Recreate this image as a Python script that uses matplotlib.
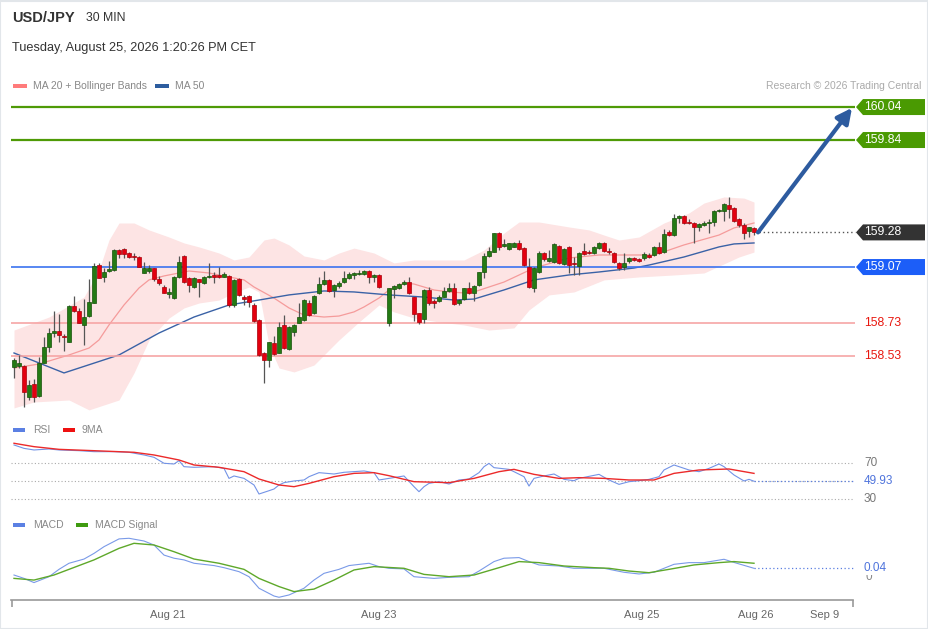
import numpy as np
import matplotlib
matplotlib.use('Agg')
import matplotlib.pyplot as plt
from matplotlib.patches import Polygon, Rectangle

plt.rcParams['font.family'] = ['Liberation Sans', 'DejaVu Sans']

# ---- candles (USD/JPY 30 min), one slot per candle, weekend gap after candle 74
opens = [158.466, 158.470, 158.470, 158.285, 158.361, 158.291, 158.491, 158.588, 158.668, 158.685,
         158.652, 158.618, 158.836, 158.806, 158.719, 158.773, 158.854, 159.082, 159.012, 159.048,
         159.052, 159.173, 159.179, 159.157, 159.137, 159.133, 159.036, 159.048, 159.062, 158.996,
         158.951, 158.907, 158.881, 159.008, 159.139, 159.002, 158.951, 158.996, 158.975, 159.008,
         159.024, 159.024, 159.012, 159.016, 158.840, 158.996, 158.891, 158.895, 158.840, 158.749,
         158.551, 158.507, 158.612, 158.547, 158.719, 158.571, 158.678, 158.733, 158.749, 158.854,
         158.789, 158.911, 158.967, 158.991, 158.931, 158.955, 158.981, 159.002, 159.022, 159.028,
         159.028, 159.046, 159.008, 159.022, 158.733, 158.935, 158.941, 158.967, 158.981, 158.886,
         158.789, 158.753, 158.931, 158.866, 158.864, 158.890, 158.927, 158.941, 158.854, 158.874,
         158.941, 158.911, 158.961, 159.042, 159.137, 159.163, 159.278, 159.197, 159.177, 159.194,
         159.214, 159.183, 159.068, 158.941, 159.042, 159.157, 159.109, 159.103, 159.198, 159.089,
         159.194, 159.097, 159.076, 159.167, 159.163, 159.153, 159.184, 159.218, 159.169, 159.157,
         159.097, 159.068, 159.109, 159.127, 159.117, 159.123, 159.143, 159.143, 159.194, 159.163,
         159.285, 159.264, 159.369, 159.379, 159.341, 159.339, 159.315, 159.325, 159.335, 159.345,
         159.410, 159.412, 159.446, 159.426, 159.359, 159.325, 159.291, 159.309]
closes = [158.507, 158.487, 158.315, 158.355, 158.285, 158.487, 158.588, 158.668, 158.683, 158.658,
          158.644, 158.836, 158.806, 158.733, 158.769, 158.860, 159.078, 159.006, 159.042, 159.058,
          159.173, 159.147, 159.149, 159.133, 159.129, 159.072, 159.062, 159.066, 158.996, 158.971,
          158.915, 158.921, 159.012, 159.103, 158.982, 158.961, 159.002, 158.982, 159.012, 159.016,
          159.012, 159.012, 159.028, 158.840, 158.992, 158.901, 158.874, 158.860, 158.743, 158.537,
          158.507, 158.614, 158.543, 158.709, 158.577, 158.705, 158.719, 158.769, 158.870, 158.779,
          158.894, 158.967, 158.991, 158.927, 158.961, 158.975, 159.002, 159.028, 159.032, 159.036,
          159.046, 159.008, 159.022, 158.947, 158.941, 158.955, 158.967, 158.979, 158.911, 158.785,
          158.739, 158.931, 158.850, 158.854, 158.886, 158.925, 158.941, 158.846, 158.870, 158.941,
          158.915, 158.955, 159.038, 159.137, 159.167, 159.274, 159.193, 159.210, 159.214, 159.214,
          159.177, 159.082, 158.951, 159.062, 159.157, 159.117, 159.123, 159.208, 159.097, 159.177,
          159.082, 159.089, 159.157, 159.149, 159.153, 159.190, 159.218, 159.169, 159.161, 159.103,
          159.062, 159.093, 159.127, 159.113, 159.109, 159.147, 159.129, 159.194, 159.157, 159.270,
          159.264, 159.365, 159.379, 159.335, 159.335, 159.311, 159.331, 159.339, 159.345, 159.412,
          159.416, 159.452, 159.420, 159.351, 159.325, 159.274, 159.311, 159.280]
highs = [158.517, 158.537, 158.476, 158.386, 158.390, 158.527, 158.644, 158.699, 158.806, 158.786,
         158.662, 158.840, 158.895, 158.820, 158.874, 158.996, 159.093, 159.093, 159.062, 159.109,
         159.177, 159.177, 159.184, 159.163, 159.153, 159.137, 159.103, 159.083, 159.066, 159.016,
         158.961, 158.941, 159.016, 159.137, 159.143, 159.008, 159.008, 158.996, 159.016, 159.093,
         159.038, 159.072, 159.038, 159.022, 158.996, 159.002, 158.901, 158.901, 158.850, 158.753,
         158.557, 158.618, 158.652, 158.739, 158.779, 158.713, 158.725, 158.854, 158.874, 158.870,
         158.900, 159.012, 159.048, 158.995, 158.965, 158.987, 159.048, 159.042, 159.042, 159.052,
         159.052, 159.052, 159.028, 159.026, 158.945, 158.961, 158.975, 158.991, 159.012, 158.890,
         158.793, 158.935, 158.951, 158.874, 158.900, 158.951, 158.975, 158.971, 158.874, 158.945,
         158.981, 158.961, 159.042, 159.153, 159.193, 159.278, 159.282, 159.238, 159.218, 159.224,
         159.234, 159.190, 159.123, 159.068, 159.167, 159.163, 159.173, 159.214, 159.204, 159.184,
         159.198, 159.133, 159.163, 159.214, 159.173, 159.198, 159.224, 159.224, 159.184, 159.163,
         159.103, 159.153, 159.133, 159.133, 159.123, 159.163, 159.153, 159.198, 159.224, 159.299,
         159.295, 159.392, 159.385, 159.385, 159.359, 159.345, 159.339, 159.351, 159.359, 159.416,
         159.420, 159.456, 159.497, 159.432, 159.365, 159.335, 159.315, 159.311]
lows = [158.396, 158.456, 158.224, 158.264, 158.254, 158.285, 158.487, 158.557, 158.648, 158.618,
        158.561, 158.618, 158.800, 158.729, 158.598, 158.769, 158.850, 159.002, 158.982, 159.042,
        159.048, 159.123, 159.123, 159.123, 159.113, 159.068, 159.032, 159.032, 158.986, 158.961,
        158.911, 158.881, 158.874, 159.002, 158.971, 158.921, 158.941, 158.891, 158.967, 159.002,
        158.971, 159.002, 159.008, 158.830, 158.830, 158.895, 158.840, 158.830, 158.739, 158.531,
        158.369, 158.462, 158.537, 158.547, 158.571, 158.567, 158.652, 158.729, 158.745, 158.775,
        158.785, 158.907, 158.961, 158.921, 158.890, 158.941, 158.975, 158.995, 158.995, 159.022,
        159.022, 158.971, 158.981, 158.941, 158.713, 158.880, 158.935, 158.961, 158.907, 158.745,
        158.725, 158.733, 158.840, 158.820, 158.860, 158.886, 158.921, 158.840, 158.840, 158.870,
        158.907, 158.866, 158.955, 159.002, 159.133, 159.159, 159.173, 159.193, 159.173, 159.190,
        159.173, 159.076, 158.941, 158.921, 159.036, 159.109, 159.103, 159.097, 159.089, 159.082,
        159.032, 159.022, 159.022, 159.143, 159.149, 159.149, 159.177, 159.163, 159.149, 159.097,
        159.052, 159.052, 159.097, 159.109, 159.103, 159.113, 159.123, 159.137, 159.149, 159.157,
        159.258, 159.258, 159.335, 159.331, 159.329, 159.218, 159.291, 159.319, 159.278, 159.319,
        159.406, 159.351, 159.365, 159.345, 159.315, 159.238, 159.254, 159.264]
slots = np.delete(np.arange(149), 74)

# ---- moving averages and Bollinger bands (slot, price)
ma20_x = [0, 5, 11, 15, 17, 19, 22, 25, 27, 30, 33, 35, 39, 43, 46, 48, 52, 55, 58, 62, 65, 68, 70,
          73, 75, 78, 80, 82, 84, 87, 90, 92, 95, 98, 104, 111, 117, 124, 128, 131, 134, 141, 144, 148]
ma20_y = [158.458, 158.482, 158.537, 158.579, 158.628, 158.719, 158.840, 158.943, 158.992, 159.016,
          159.034, 159.046, 159.034, 159.010, 158.992, 158.949, 158.882, 158.822, 158.779, 158.767,
          158.773, 158.798, 158.828, 158.882, 158.931, 158.973, 158.967, 158.949, 158.931, 158.919,
          158.913, 158.919, 158.949, 158.979, 159.064, 159.125, 159.143, 159.143, 159.143, 159.173,
          159.204, 159.264, 159.307, 159.337]
ma50_x = [0, 10, 21, 29, 36, 43, 49, 55, 62, 68, 75, 82, 88, 92, 98, 104, 111, 117, 124, 127, 134, 141, 144, 148]
ma50_y = [158.549, 158.428, 158.537, 158.670, 158.767, 158.840, 158.870, 158.901, 158.925, 158.919,
          158.901, 158.888, 158.870, 158.876, 158.931, 158.992, 159.022, 159.040, 159.064, 159.082,
          159.131, 159.192, 159.210, 159.216]
bb_up_x = [0, 7, 14, 17, 19, 21, 24, 27, 31, 34, 37, 41, 44, 47, 50, 52, 55, 58, 62, 65, 68, 72, 76,
           80, 85, 90, 94, 98, 101, 105, 111, 115, 118, 121, 125, 130, 135, 138, 142, 146, 148]
bb_up_y = [158.688, 158.767, 158.888, 159.052, 159.234, 159.337, 159.337, 159.295, 159.252, 159.216,
           159.192, 159.155, 159.113, 159.131, 159.234, 159.246, 159.204, 159.137, 159.113, 159.155,
           159.185, 159.155, 159.095, 159.113, 159.113, 159.113, 159.173, 159.276, 159.343, 159.343,
           159.313, 159.295, 159.264, 159.234, 159.252, 159.337, 159.398, 159.458, 159.495, 159.488, 159.464]
bb_lo_x = [0, 4, 11, 15, 21, 24, 27, 31, 34, 37, 41, 44, 47, 49, 51, 53, 56, 60, 65, 69, 73, 76, 80,
           85, 90, 95, 100, 103, 107, 112, 118, 125, 132, 138, 145, 148]
bb_lo_y = [158.216, 158.252, 158.264, 158.204, 158.264, 158.428, 158.628, 158.761, 158.822, 158.852,
           158.870, 158.913, 158.949, 158.919, 158.598, 158.458, 158.434, 158.476, 158.628, 158.737,
           158.840, 158.798, 158.761, 158.737, 158.719, 158.688, 158.701, 158.810, 158.901, 158.919,
           158.992, 159.010, 159.022, 159.034, 159.131, 159.161]

# ---- RSI and its 9MA
rsi_x = [0, 2, 4, 7, 9, 13, 16, 20, 23, 26, 28, 30, 32, 33, 34, 36, 40, 42, 43, 44, 46, 48, 49, 51, 52,
         53, 54, 56, 58, 59, 61, 64, 66, 70, 72, 73, 75, 78, 80, 81, 82, 83, 85, 87, 89, 91, 93, 94, 95,
         96, 99, 100, 102, 103, 104, 106, 108, 110, 112, 113, 117, 119, 121, 123, 125, 127, 129, 130, 132,
         135, 137, 139, 141, 142, 144, 146, 147, 148]
rsi_y = [90.5, 86.7, 84.9, 86.0, 84.9, 84.1, 83.0, 83.0, 82.3, 79.3, 76.7, 70.0, 69.2, 72.9, 66.2, 65.5,
         66.2, 64.3, 53.1, 55.8, 53.1, 45.7, 35.6, 39.3, 41.2, 45.7, 48.3, 50.2, 51.3, 55.0, 59.5, 58.0,
         59.9, 61.4, 59.5, 51.3, 53.1, 55.8, 43.8, 38.2, 43.8, 47.5, 49.4, 46.8, 51.3, 52.4, 59.5, 66.2,
         69.9, 65.1, 63.2, 60.6, 55.0, 44.5, 53.1, 55.8, 58.0, 52.0, 50.5, 53.1, 57.6, 51.3, 46.4, 49.4,
         50.5, 52.0, 55.0, 62.5, 68.1, 62.5, 60.6, 64.3, 69.2, 66.2, 56.9, 50.2, 52.0, 49.93]
rsi_ma_x = [0, 4, 9, 16, 24, 28, 33, 36, 41, 46, 49, 53, 56, 59, 64, 68, 72, 75, 80, 87, 92, 97, 100,
            104, 109, 113, 118, 123, 128, 132, 137, 143, 148]
rsi_ma_y = [92.4, 88.6, 85.6, 84.1, 82.3, 79.3, 73.7, 68.1, 65.5, 60.6, 52.4, 45.7, 43.8, 47.5, 55.0,
            58.7, 59.5, 56.1, 49.4, 48.3, 53.1, 60.6, 63.2, 57.6, 53.1, 53.9, 53.1, 51.3, 51.3, 58.7,
            62.5, 63.6, 58.7]

# ---- MACD and signal
macd_x = [0, 2, 4, 7, 9, 11, 14, 16, 18, 21, 23, 26, 28, 30, 32, 34, 36, 40, 42, 45, 47, 49, 52, 53,
          55, 58, 60, 62, 65, 67, 71, 73, 75, 78, 80, 84, 87, 91, 93, 96, 98, 101, 103, 105, 109, 112,
          116, 118, 122, 125, 128, 130, 132, 135, 138, 142, 144, 148]
macd_y = [0.008, -0.008, -0.028, 0.000, 0.035, 0.064, 0.084, 0.111, 0.143, 0.180, 0.183, 0.170, 0.151,
          0.103, 0.088, 0.080, 0.064, 0.053, 0.043, 0.024, 0.000, -0.055, -0.092, -0.098, -0.087, -0.055,
          -0.016, 0.016, 0.035, 0.053, 0.064, 0.048, 0.040, 0.037, 0.000, -0.008, -0.003, 0.000, 0.027,
          0.072, 0.088, 0.091, 0.072, 0.056, 0.051, 0.040, 0.040, 0.040, 0.021, 0.013, 0.021, 0.040,
          0.059, 0.067, 0.067, 0.083, 0.068, 0.040]
sig_x = [0, 4, 8, 11, 16, 21, 24, 28, 32, 36, 41, 46, 49, 53, 56, 60, 64, 68, 72, 78, 82, 87, 92, 97,
         101, 105, 110, 116, 119, 123, 127, 131, 136, 141, 144, 148]
sig_y = [-0.008, -0.016, 0.008, 0.035, 0.080, 0.135, 0.159, 0.151, 0.119, 0.084, 0.064, 0.035, -0.008,
         -0.047, -0.071, -0.059, -0.016, 0.032, 0.048, 0.040, 0.011, 0.000, 0.008, 0.043, 0.072, 0.067,
         0.051, 0.043, 0.040, 0.027, 0.019, 0.035, 0.056, 0.067, 0.072, 0.064]

# ---- levels and labels
resistance = [160.04, 159.84]
support_blue = 159.07
supports_red = [158.73, 158.53]
last_price = 159.28
rsi_last = 49.93
macd_last = 0.04
tick_pos = [30.8, 73.0, 125.6, 148.4, 162.2]
tick_lab = ['Aug 21', 'Aug 23', 'Aug 25', 'Aug 26', 'Sep 9']

W, H = 929, 629
fig = plt.figure(figsize=(W / 100, H / 100), dpi=100)
fig.patch.set_facecolor('white')


def px_axes(x0, y0, x1, y1):
    return fig.add_axes([x0 / W, 1 - y1 / H, (x1 - x0) / W, (y1 - y0) / H])


def xa(px):
    # pixel x -> axes fraction (all panels span 11..929)
    return (px - 11) / 918.0


XL = (-0.6, 183.0)
XEND = 168.2  # slot where level lines stop

# ---------------- price panel
ax = px_axes(11, 95, 929, 415)
ax.set_xlim(*XL)
ax.set_ylim(158.173, 160.113)
ax.axis('off')

grid = np.arange(149)
ax.fill_between(grid, np.interp(grid, bb_up_x, bb_up_y), np.interp(grid, bb_lo_x, bb_lo_y),
                color='#fde4e4', lw=0, zorder=1)
ax.plot(ma20_x, ma20_y, color='#f59b9b', lw=0.9, zorder=2)
ax.plot(ma50_x, ma50_y, color='#3a62a6', lw=1.0, zorder=2)

for y in resistance:
    ax.hlines(y, XL[0], XEND, color='#4e9a06', lw=1.6, zorder=3)
ax.hlines(support_blue, XL[0], XEND, color='#3b73f0', lw=1.2, zorder=3)
for y in supports_red:
    ax.hlines(y, XL[0], XEND, color='#f6a5a5', lw=1.2, zorder=3)

o = np.array(opens)
c = np.array(closes)
up = c >= o
col = np.where(up, '#247a14', '#e3000f')
edge = np.where(up, '#155209', '#a8000a')
ax.vlines(slots, lows, highs, color='#555555', lw=0.9, zorder=4)
ax.bar(slots, np.maximum(np.abs(c - o), 0.004), bottom=np.minimum(o, c), width=0.74,
       color=col, edgecolor=edge, lw=0.5, zorder=5)

ax.hlines(last_price, slots[-1] + 0.9, XEND, color='#555555', lw=1, linestyles=(0, (1, 2)), zorder=3)
ax.annotate('', xy=(167.6, resistance[0] - 0.005), xytext=(slots[-1] + 0.8, last_price),
            arrowprops=dict(arrowstyle='-|>,head_length=0.9,head_width=0.45', color='#2d5b9f', lw=3,
                            shrinkA=0, shrinkB=0), zorder=6)

half = 8 * (160.113 - 158.173) / 320.0
tr = ax.get_yaxis_transform()


def tag(y, txt, fc):
    pts = [[xa(856), y], [xa(863), y + half], [xa(925), y + half], [xa(925), y - half], [xa(863), y - half]]
    ax.add_patch(Polygon(pts, closed=True, transform=tr, fc=fc, ec='none', clip_on=False, zorder=7))
    ax.text(xa(864), y, txt, transform=tr, color='white', fontsize=8.8, va='center', ha='left', zorder=8)


tag(resistance[0], '%.2f' % resistance[0], '#4a9a02')
tag(resistance[1], '%.2f' % resistance[1], '#4a9a02')
tag(last_price, '%.2f' % last_price, '#333333')
tag(support_blue, '%.2f' % support_blue, '#1c5ef8')
for y in supports_red:
    ax.text(xa(864), y, '%.2f' % y, transform=tr, color='#e8170f', fontsize=8.8, va='center', ha='left')

# ---------------- RSI panel
ar = px_axes(11, 438, 929, 510)
ar.set_xlim(*XL)
ar.set_ylim(17.7, 98.3)
ar.axis('off')
for lvl in (70, 50, 30):
    ar.hlines(lvl, XL[0], XEND - 0.4, color='#aaaaaa', lw=0.8, linestyles=(0, (1, 2)))
ar.plot(rsi_x, rsi_y, color='#7393e6', lw=0.8)
ar.plot(rsi_ma_x, rsi_ma_y, color='#ec2a2a', lw=1.0)
ar.hlines(rsi_last, rsi_x[-1], XEND - 0.4, color='#5b7fe0', lw=0.9, linestyles=(0, (1, 2)))
trr = ar.get_yaxis_transform()
ar.text(xa(864), 70, '70', transform=trr, color='#777777', fontsize=8.5, va='center')
ar.text(xa(864), rsi_last, '%.2f' % rsi_last, transform=trr, color='#4f74dc', fontsize=8.5, va='center')
ar.text(xa(864), 30, '30', transform=trr, color='#777777', fontsize=8.5, va='center')

# ---------------- MACD panel
am = px_axes(11, 532, 929, 600)
am.set_xlim(*XL)
am.set_ylim(-0.111, 0.2129)
for s in ('top', 'right', 'left'):
    am.spines[s].set_visible(False)
am.spines['bottom'].set_bounds(XL[0], 167.8)
am.spines['bottom'].set_color('#999999')
am.spines['bottom'].set_linewidth(1.2)
am.set_yticks([])
am.set_xticks(tick_pos)
am.set_xticklabels(tick_lab, fontsize=8, color='#666666')
am.tick_params(axis='x', length=0, pad=7)
am.set_xticks([XL[0] + 0.15, 167.8], minor=True)
am.tick_params(axis='x', which='minor', length=5, width=1.2, color='#999999')
am.plot(macd_x, macd_y, color='#7a9ae8', lw=0.8)
am.plot(sig_x, sig_y, color='#5ea82a', lw=1.0)
am.hlines(macd_last, macd_x[-1], XEND - 0.4, color='#5b7fe0', lw=0.9, linestyles=(0, (1, 2)))
trm = am.get_yaxis_transform()
am.text(xa(866), 0.0, '0', transform=trm, color='#888888', fontsize=8.5, va='center')
am.text(xa(864), macd_last, '%.2f' % macd_last, transform=trm, color='#4f74dc', fontsize=8.5,
        va='center', bbox=dict(fc='white', ec='none', pad=0.3))


# ---------------- header, legends
def ftext(x, y, s, **kw):
    fig.text(x / W, 1 - y / H, s, va='center', **kw)


def fbox(x, y, w, h, color):
    fig.patches.append(Rectangle((x / W, 1 - (y + h / 2) / H), w / W, h / H, transform=fig.transFigure,
                                 fc=color, ec='none'))


ftext(12, 18, 'USD/JPY', fontsize=10.5, fontweight='bold', color='#333333')
ftext(86, 18, '30 MIN', fontsize=8.8, color='#333333')
ftext(12, 48, 'Tuesday, August 25, 2026 1:20:26 PM CET', fontsize=9.2, color='#333333')

fbox(13, 86, 14, 4, '#ff7b7b')
ftext(33, 86, 'MA 20 + Bollinger Bands', fontsize=7.5, color='#888888')
fbox(155, 86, 14, 4, '#2d5d9f')
ftext(175, 86, 'MA 50', fontsize=7.5, color='#888888')
ftext(921, 86, 'Research \u00a9 2026 Trading Central', fontsize=7.5, color='#aaaaaa', ha='right')

fbox(13, 430, 12, 4, '#5b80e3')
ftext(33, 430, 'RSI', fontsize=7.5, color='#888888')
fbox(63, 430, 12, 4, '#ee1111')
ftext(82, 430, '9MA', fontsize=7.5, color='#888888')

fbox(13, 525, 12, 4, '#5b80e3')
ftext(33, 525, 'MACD', fontsize=7.5, color='#888888')
fbox(76, 525, 12, 4, '#3f9b10')
ftext(95, 525, 'MACD Signal', fontsize=7.5, color='#888888')

fig.patches.append(Rectangle((0.5 / W, 0.5 / H), 1 - 1.5 / W, 1 - 1.5 / H, transform=fig.transFigure,
                             fc='none', ec='#e2e6ea', lw=1.5))

fig.savefig('out.png', dpi=100)
